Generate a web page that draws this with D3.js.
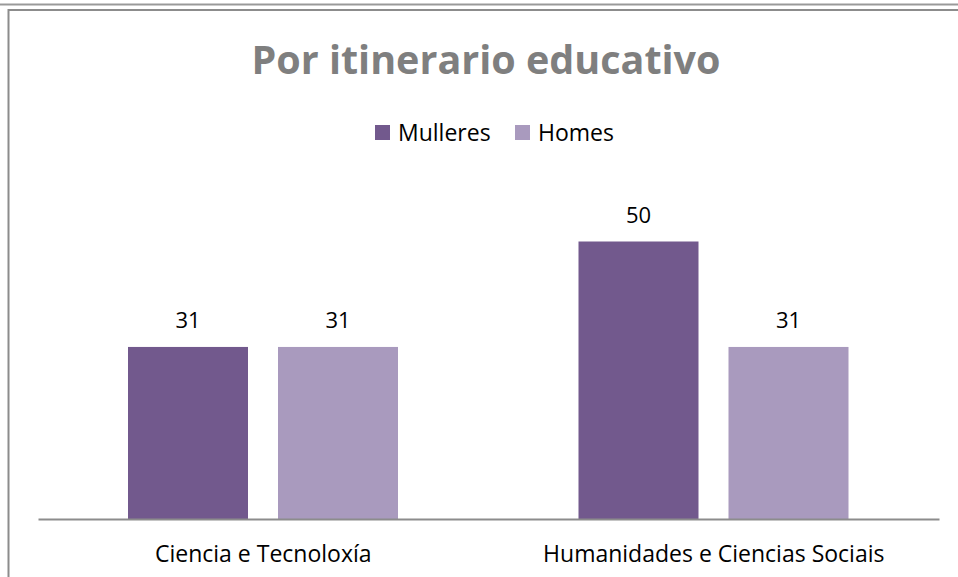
<!DOCTYPE html>
<html>
<head>
<meta charset="utf-8">
<script src="https://cdn.jsdelivr.net/npm/d3@7"></script>
<style>
  body { margin: 0; background: #fff; }
  text { font-family: "Open Sans", sans-serif; }
</style>
</head>
<body>
<div id="chart"></div>
<script>
// chart data
const categories = ["Ciencia e Tecnoloxía", "Humanidades e Ciencias Sociais"];
const seriesNames = ["Mulleres", "Homes"];
const mulleres = [31, 50];
const homes = [31, 31];
const colors = ["#72598d", "#a99abe"];

const width = 958, height = 577;

const svg = d3.select("#chart").append("svg")
    .attr("width", width)
    .attr("height", height);

// frame lines
svg.append("line").attr("x1", 0).attr("x2", width).attr("y1", 4.5).attr("y2", 4.5)
    .attr("stroke", "#999").attr("stroke-width", 2);
svg.append("line").attr("x1", 8).attr("x2", width).attr("y1", 10).attr("y2", 10)
    .attr("stroke", "#8c8c8c").attr("stroke-width", 2);
svg.append("line").attr("x1", 8.5).attr("x2", 8.5).attr("y1", 9).attr("y2", height)
    .attr("stroke", "#8c8c8c").attr("stroke-width", 2);

// title
svg.append("text")
    .attr("x", 486).attr("y", 74)
    .attr("text-anchor", "middle")
    .attr("font-size", 39.5)
    .attr("font-weight", "bold")
    .attr("fill", "#7f7f7f")
    .text("Por itinerario educativo");

// scales
const x0 = d3.scaleBand().domain(categories).range([38, 939]);
const x1 = d3.scaleBand().domain(seriesNames).range([90, 360]).paddingInner(0.2);
const y = d3.scaleLinear().domain([0, 60]).range([519, 186]);

const rows = categories.map((c, i) => ({
    cat: c,
    values: [
        {key: "Mulleres", value: mulleres[i]},
        {key: "Homes", value: homes[i]}
    ]
}));

const groups = svg.selectAll("g.group")
    .data(rows)
    .enter()
    .append("g")
    .attr("class", "group")
    .attr("transform", d => "translate(" + x0(d.cat) + ",0)");

groups.selectAll("rect")
    .data(d => d.values)
    .enter()
    .append("rect")
    .attr("x", d => x1(d.key))
    .attr("y", d => y(d.value))
    .attr("width", x1.bandwidth())
    .attr("height", d => y(0) - y(d.value))
    .attr("fill", (d, i) => colors[i]);

groups.selectAll("text.val")
    .data(d => d.values)
    .enter()
    .append("text")
    .attr("class", "val")
    .attr("x", d => x1(d.key) + x1.bandwidth() / 2)
    .attr("y", d => y(d.value) - 19)
    .attr("text-anchor", "middle")
    .attr("font-size", 22)
    .attr("fill", "#000")
    .text(d => d.value);

// axis
const xAxis = svg.append("g")
    .attr("transform", "translate(0," + y(0) + ")")
    .call(d3.axisBottom(x0).tickSize(0));
xAxis.select(".domain").attr("stroke", "#8c8c8c").attr("stroke-width", 2);
xAxis.selectAll(".tick text")
    .attr("y", 43)
    .attr("dy", null)
    .attr("font-size", 23)
    .attr("font-family", "Open Sans")
    .attr("fill", "#000");

// legend
const legend = svg.append("g");
const legendX = [375, 515];
seriesNames.forEach((s, i) => {
    legend.append("rect")
        .attr("x", legendX[i]).attr("y", 125)
        .attr("width", 15).attr("height", 15)
        .attr("fill", colors[i]);
    legend.append("text")
        .attr("x", legendX[i] + 23).attr("y", 141)
        .attr("font-size", 23)
        .attr("fill", "#000")
        .text(s);
});
</script>
</body>
</html>
